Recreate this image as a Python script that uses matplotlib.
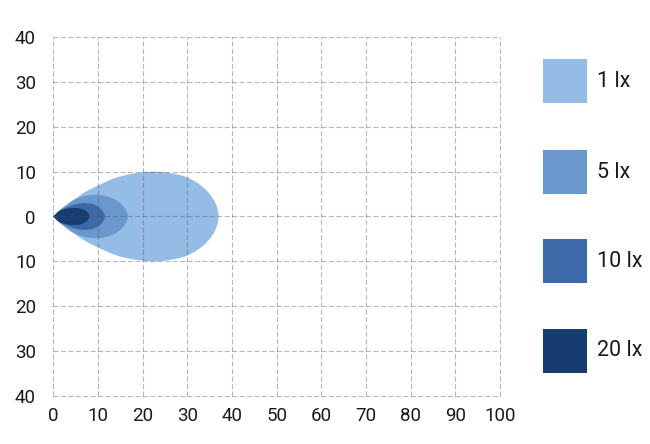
import numpy as np
import matplotlib
matplotlib.use("Agg")
import matplotlib.pyplot as plt
from matplotlib.patches import Polygon, Rectangle

plt.rcParams['font.family'] = ['Roboto', 'DejaVu Sans']

# Light-distribution contours (distance in m, half-width in m), upper half, symmetric
levels = ["1 lx", "5 lx", "10 lx", "20 lx"]
colors = ["#94bce5", "#6a98cc", "#3e69a8", "#173c70"]

x_1lx = [0, 1.5, 3.7, 6.7, 10.0, 14.2, 19.4, 23.0, 27.2, 30.0, 33.2, 35.4, 36.6, 37.0]
y_1lx = [0, 1.5, 3.0, 5.2, 6.9, 8.7, 9.8, 10.0, 9.5, 8.7, 6.8, 4.5, 2.2, 0]

x_5lx = [0, 2.2, 5.2, 9.7, 13.4, 15.9, 16.7]
y_5lx = [0, 2.0, 4.0, 4.85, 4.0, 2.0, 0]

x_10lx = [0, 2.2, 6.5, 9.5, 11.0, 11.6]
y_10lx = [0, 1.7, 3.0, 2.5, 1.3, 0]

x_20lx = [0, 1.5, 4.5, 7.0, 8.1]
y_20lx = [0, 1.3, 1.9, 1.4, 0]

outlines = [(x_1lx, y_1lx), (x_5lx, y_5lx), (x_10lx, y_10lx), (x_20lx, y_20lx)]

x_ticks = list(range(0, 101, 10))
y_ticks = list(range(-40, 41, 10))
y_tick_labels = [str(abs(v)) for v in y_ticks]


def centripetal_outline(xs, ys, steps=24):
    """Smooth closed outline through the read points (centripetal Catmull-Rom)."""
    up = list(zip(xs, ys))
    low = [(x, -y) for x, y in up[::-1]][1:]
    pts = np.array(up + low, dtype=float)
    n = len(pts)
    out = [pts[0]]
    for i in range(n - 1):
        p0 = pts[i - 1] if i > 0 else 2 * pts[0] - pts[1]
        p1, p2 = pts[i], pts[i + 1]
        p3 = pts[i + 2] if i + 2 < n else 2 * pts[-1] - pts[-2]
        t0 = 0.0
        t1 = t0 + np.linalg.norm(p1 - p0) ** 0.5 + 1e-9
        t2 = t1 + np.linalg.norm(p2 - p1) ** 0.5 + 1e-9
        t3 = t2 + np.linalg.norm(p3 - p2) ** 0.5 + 1e-9
        for t in np.linspace(t1, t2, steps)[1:]:
            a1 = (t1 - t) / (t1 - t0) * p0 + (t - t0) / (t1 - t0) * p1
            a2 = (t2 - t) / (t2 - t1) * p1 + (t - t1) / (t2 - t1) * p2
            a3 = (t3 - t) / (t3 - t2) * p2 + (t - t2) / (t3 - t2) * p3
            b1 = (t2 - t) / (t2 - t0) * a1 + (t - t0) / (t2 - t0) * a2
            b2 = (t3 - t) / (t3 - t1) * a2 + (t - t1) / (t3 - t1) * a3
            out.append((t2 - t) / (t2 - t1) * b1 + (t - t1) / (t2 - t1) * b2)
    return np.array(out)


fig = plt.figure(figsize=(6.5, 4.44), dpi=100)
W, H = 650, 444
ax = fig.add_axes([53.3 / W, 1 - 395.7 / H, (500 - 53.3) / W, (395.7 - 37.3) / H])

for (xs, ys), c in zip(outlines, colors):
    ax.add_patch(Polygon(centripetal_outline(xs, ys), closed=True,
                         facecolor=c, edgecolor='none', zorder=1))

ax.set_xlim(0, 100)
ax.set_ylim(-40, 40)
ax.set_xticks(x_ticks)
ax.set_yticks(y_ticks)
ax.set_yticklabels(y_tick_labels)
ax.tick_params(length=0, labelsize=13.5, colors='#1a1a1a')
ax.tick_params(axis='y', pad=12.5)
ax.tick_params(axis='x', pad=8)
for s in ax.spines.values():
    s.set_visible(False)
ax.set_axisbelow(False)
ax.grid(True, color='#505050', linestyle=(0, (4.5, 2.2)), linewidth=0.8, alpha=0.4)
for gl in ax.get_xgridlines() + ax.get_ygridlines():
    gl.set_clip_on(False)
    gl.set_zorder(2)

# legend
lax = fig.add_axes([0, 0, 1, 1])
lax.set_xlim(0, W)
lax.set_ylim(H, 0)
lax.axis('off')
tops = [59.3, 150.0, 239.3, 328.7]
for lab, c, t in zip(levels, colors, tops):
    lax.add_patch(Rectangle((543, t), 44, 44, facecolor=c, edgecolor='none'))
    lax.text(597, t + 22, lab, fontsize=15.5, va='center', ha='left', color='#1a1a1a')

fig.savefig('out.png', dpi=100)
